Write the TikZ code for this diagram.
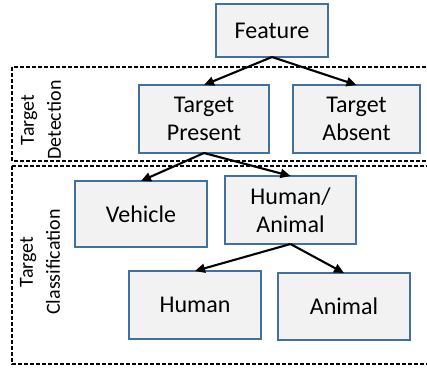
\documentclass[tikz,border=0pt]{standalone}
\usepackage{fontspec}
\setmainfont{Carlito}
\usetikzlibrary{arrows.meta}
\definecolor{boxblue}{HTML}{41719C}
\definecolor{boxfill}{HTML}{F2F2F2}
\tikzset{
  cbox/.style={draw=boxblue, fill=boxfill, line width=2.4pt, rectangle, align=center,
    font=\fontsize{24}{27.5}\selectfont, inner sep=0pt, outer sep=0pt},
  conn/.style={-{Triangle[length=10pt,width=9pt]}, line width=2.1pt},
  region/.style={draw=black, dash pattern=on 4pt off 2pt, line width=1.4pt},
  rlabel/.style={rotate=90, align=center, font=\fontsize{20}{27}\selectfont}
}
\begin{document}
\begin{tikzpicture}[x=1pt,y=-1pt]
\useasboundingbox (0,0) rectangle (427,367);
\begin{scope}
\clip (0,0) rectangle (427,367);
\draw[region] (12,67) rectangle (440,161);
\draw[region] (12,166) rectangle (440,364);
\end{scope}
\node[rlabel] (ldet) at (41,120) {Target\\Detection};
\node[rlabel] (lcls) at (40,262) {Target\\Classification};
\node[cbox, minimum width=112pt, minimum height=53pt] (feat) at (272,30.5) {Feature};
\node[cbox, minimum width=130pt, minimum height=68pt] (tp) at (204,119) {Target\\Present};
\node[cbox, minimum width=127pt, minimum height=68pt] (ta) at (356.5,119) {Target\\Absent};
\node[cbox, minimum width=132pt, minimum height=66pt] (veh) at (141,214) {Vehicle};
\node[cbox, minimum width=131pt, minimum height=68pt] (ha) at (290.5,210) {Human/\\Animal};
\node[cbox, minimum width=132pt, minimum height=68pt] (hum) at (195,305) {Human};
\node[cbox, minimum width=132pt, minimum height=67pt] (ani) at (344,306.5) {Animal};
\draw[conn] (feat.south) -- (tp.north);
\draw[conn] (feat.south) -- (ta.north);
\draw[conn] (tp.south) -- (veh.north);
\draw[conn] (tp.south) -- (ha.north);
\draw[conn] (ha.south) -- (hum.north);
\draw[conn] (ha.south) -- (ani.north);
\end{tikzpicture}
\end{document}
